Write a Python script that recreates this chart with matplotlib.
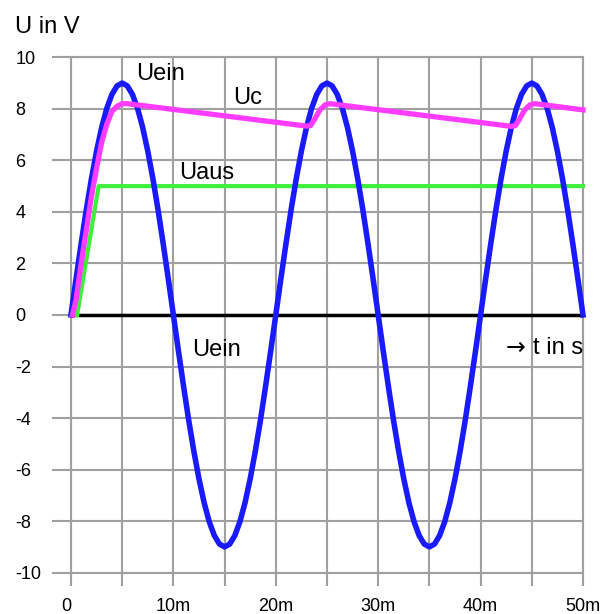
import matplotlib
matplotlib.use("Agg")
import matplotlib.pyplot as plt

plt.rcParams['font.family'] = ['Liberation Sans', 'DejaVu Sans']
plt.rcParams['axes.unicode_minus'] = False

# input voltage, sampled every 0.5 ms
t_ein = [k * 0.5 for k in range(101)]
u_ein = [0, 1.41, 2.78, 4.09, 5.29, 6.36, 7.28, 8.02, 8.56, 8.89,
         9.0, 8.89, 8.56, 8.02, 7.28, 6.36, 5.29, 4.09, 2.78, 1.41,
         0, -1.41, -2.78, -4.09, -5.29, -6.36, -7.28, -8.02, -8.56, -8.89,
         -9.0, -8.89, -8.56, -8.02, -7.28, -6.36, -5.29, -4.09, -2.78, -1.41,
         0, 1.41, 2.78, 4.09, 5.29, 6.36, 7.28, 8.02, 8.56, 8.89,
         9.0, 8.89, 8.56, 8.02, 7.28, 6.36, 5.29, 4.09, 2.78, 1.41,
         0, -1.41, -2.78, -4.09, -5.29, -6.36, -7.28, -8.02, -8.56, -8.89,
         -9.0, -8.89, -8.56, -8.02, -7.28, -6.36, -5.29, -4.09, -2.78, -1.41,
         0, 1.41, 2.78, 4.09, 5.29, 6.36, 7.28, 8.02, 8.56, 8.89,
         9.0, 8.89, 8.56, 8.02, 7.28, 6.36, 5.29, 4.09, 2.78, 1.41,
         0]

# capacitor voltage
t_c = [0.15, 0.5, 1.0, 1.5, 2.0, 2.5, 3.0, 3.5, 4.0, 4.5, 5.0, 5.5,
       23.0, 23.4, 23.8, 24.3, 24.8, 25.3,
       43.0, 43.4, 43.8, 44.3, 44.8, 45.3, 50.0]
u_c = [0, 0.6, 2.0, 3.3, 4.6, 5.7, 6.7, 7.4, 7.9, 8.1, 8.2, 8.2,
       7.33, 7.35, 7.6, 7.95, 8.15, 8.2,
       7.32, 7.35, 7.6, 7.95, 8.15, 8.2, 7.96]

# output voltage
t_aus = [0.6, 2.7, 50.0]
u_aus = [0, 5.0, 5.0]

x_ticks = list(range(0, 51, 5))
x_labels = ['0', '', '10m', '', '20m', '', '30m', '', '40m', '', '50m']
y_ticks = list(range(-10, 11, 2))

grid_col = '#a0a0a0'

fig = plt.figure(figsize=(6.03, 6.14), dpi=100)
ax = fig.add_axes([0.1177, 0.0673, 0.8491, 0.8394])

ax.plot([0, 50], [0, 0], color='black', lw=2.5, solid_capstyle='butt', zorder=3)
ax.plot(t_aus, u_aus, color='#3cf03c', lw=3, zorder=4, clip_on=False)
ax.plot(t_ein, u_ein, color='#1a1aff', lw=4, zorder=5, clip_on=False)
ax.plot(t_c, u_c, color='#ff3cff', lw=3.8, zorder=6, clip_on=False)

ax.set_xlim(0, 50)
ax.set_ylim(-10, 10)
ax.set_xticks(x_ticks, labels=x_labels)
ax.set_yticks(y_ticks)
ax.grid(True, color=grid_col, lw=1.5)
ax.set_axisbelow(True)
for s in ax.spines.values():
    s.set_color(grid_col)
    s.set_linewidth(1.5)

ax.tick_params(axis='y', length=13.5, width=1.5, color=grid_col, pad=26.5, labelsize=13)
ax.tick_params(axis='x', length=9, width=1.5, color=grid_col, pad=9, labelsize=13)
for lab in ax.get_yticklabels():
    lab.set_horizontalalignment('left')
ax.get_xticklabels()[0].set_horizontalalignment('right')

ax.text(6.4, 9.1, 'Uein', fontsize=17, va='baseline')
ax.text(15.8, 8.19, 'Uc', fontsize=17, va='baseline')
ax.text(10.6, 5.27, 'Uaus', fontsize=17, va='baseline')
ax.text(11.85, -1.59, 'Uein', fontsize=17, va='baseline')
ax.text(50, -1.53, 't in s', fontsize=17, va='baseline', ha='right')
ax.text(44.4, -1.53, '\u2192', fontsize=17, va='baseline', ha='right',
        family='DejaVu Sans')

fig.text(0.0249, 0.947, 'U in V', fontsize=17, va='baseline')

fig.savefig('out.png', dpi=100)
